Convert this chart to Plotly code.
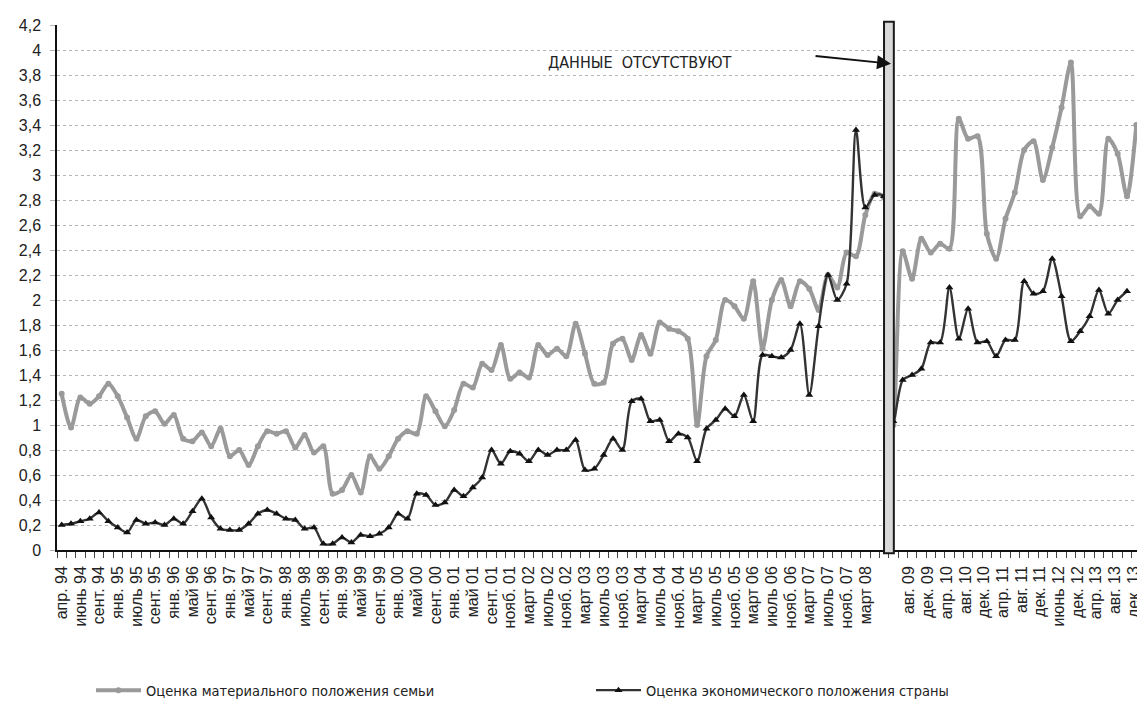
import plotly.graph_objects as go

# Survey waves (one point per wave), 1994-2013; a gap of missing data between 2008 and 2009
family = [1.25, 0.98, 1.22, 1.17, 1.23, 1.33, 1.23, 1.06, 0.89, 1.07,
          1.11, 1.01, 1.08, 0.89, 0.87, 0.94, 0.83, 0.97, 0.75, 0.80,
          0.68, 0.83, 0.95, 0.93, 0.95, 0.82, 0.92, 0.78, 0.83, 0.45,
          0.48, 0.60, 0.46, 0.75, 0.65, 0.75, 0.89, 0.95, 0.93, 1.23,
          1.11, 0.99, 1.12, 1.33, 1.30, 1.49, 1.44, 1.64, 1.37, 1.42,
          1.38, 1.64, 1.56, 1.61, 1.55, 1.81, 1.57, 1.33, 1.34, 1.65,
          1.69, 1.52, 1.72, 1.57, 1.82, 1.77, 1.75, 1.69, 1.00, 1.55,
          1.68, 2.00, 1.95, 1.85, 2.15, 1.61, 2.00, 2.16, 1.95, 2.15,
          2.09, 1.92, 2.20, 2.10, 2.38, 2.35, 2.68, 2.85, 2.82, 1.00,
          2.39, 2.17, 2.49, 2.38, 2.45, 2.41, 3.45, 3.29, 3.31, 2.53,
          2.33, 2.65, 2.86, 3.20, 3.27, 2.96, 3.22, 3.54, 3.90, 2.67,
          2.75, 2.69, 3.29, 3.17, 2.83, 3.40]

country = [0.20, 0.21, 0.23, 0.25, 0.30, 0.23, 0.18, 0.14, 0.24, 0.21,
           0.22, 0.20, 0.25, 0.21, 0.31, 0.41, 0.26, 0.17, 0.16, 0.16,
           0.21, 0.29, 0.32, 0.29, 0.25, 0.24, 0.17, 0.18, 0.05, 0.05,
           0.10, 0.06, 0.12, 0.11, 0.13, 0.18, 0.29, 0.25, 0.45, 0.44,
           0.36, 0.38, 0.48, 0.43, 0.50, 0.58, 0.80, 0.69, 0.79, 0.77,
           0.71, 0.80, 0.76, 0.80, 0.80, 0.88, 0.64, 0.65, 0.76, 0.89,
           0.80, 1.19, 1.21, 1.03, 1.04, 0.87, 0.93, 0.90, 0.71, 0.97,
           1.04, 1.13, 1.07, 1.24, 1.03, 1.56, 1.55, 1.54, 1.60, 1.81,
           1.24, 1.79, 2.20, 2.00, 2.13, 3.36, 2.74, 2.84, 2.83, 1.03,
           1.36, 1.40, 1.45, 1.66, 1.66, 2.10, 1.69, 1.93, 1.66, 1.67,
           1.55, 1.68, 1.68, 2.15, 2.05, 2.07, 2.33, 2.03, 1.67, 1.75,
           1.87, 2.08, 1.89, 2.00, 2.07, None]

labels_left = ["апр. 94", "июнь 94", "сент. 94", "янв. 95", "июль 95", "сент. 95",
               "янв. 96", "май 96", "сент. 96", "янв. 97", "май 97", "сент. 97",
               "янв. 98", "июль 98", "сент. 98", "янв. 99", "май 99", "сент. 99",
               "янв. 00", "май 00", "сент. 00", "янв. 01", "май 01", "сент. 01",
               "нояб. 01", "март 02", "июль 02", "нояб. 02", "март 03", "июль 03",
               "нояб. 03", "март 04", "июль 04", "нояб. 04", "март 05", "июль 05",
               "нояб. 05", "март 06", "июль 06", "нояб. 06", "март 07", "июль 07",
               "нояб. 07", "март 08"]
labels_right = ["авг. 09", "дек. 09", "апр. 10", "авг. 10", "дек. 10", "апр. 11",
                "авг. 11", "дек. 11", "июнь 12", "дек. 12", "апр. 13", "авг. 13",
                "дек. 13"]

name_family = "Оценка материального положения семьи"
name_country = "Оценка экономического положения страны"
note = "ДАННЫЕ  ОТСУТСТВУЮТ"

n = len(family)
idx = list(range(n))
gap = 88  # last wave before the missing period
# every second wave is labelled; right-hand labels nudged a little left as in the original
tickvals = list(range(0, 2 * len(labels_left), 2)) + \
    [v - 0.3 for v in range(n - 2 * len(labels_right) + 1, n, 2)]
ticktext = labels_left + labels_right

narrow = "Liberation Sans Narrow, DejaVu Sans Condensed, Arial Narrow, sans-serif"
regular = "Liberation Sans, Arial, sans-serif"

fig = go.Figure()

fig.add_trace(go.Scatter(
    x=idx, y=family, name=name_family,
    mode='lines+markers',
    line=dict(color='#9a9a9a', width=4, shape='spline', smoothing=0.8),
    marker=dict(symbol='circle', size=6, color='#9a9a9a')
))

fig.add_trace(go.Scatter(
    x=idx, y=country, name=name_country,
    mode='lines+markers',
    line=dict(color='#333333', width=2.4, shape='spline', smoothing=0.8),
    marker=dict(symbol='triangle-up', size=7, color='#111111')
))

# grey bar marking the missing data
fig.add_shape(type='rect', xref='x', yref='paper',
              x0=gap, x1=gap + 1.05, y0=-0.006, y1=1.006,
              fillcolor='#d9d9d9', line=dict(color='#1a1a1a', width=2),
              layer='above')

fig.add_annotation(x=61.8, y=3.9, xref='x', yref='y', text=note,
                   showarrow=False, font=dict(family=narrow, size=16, color='#222'))
fig.add_annotation(x=gap + 0.75, y=3.89, xref='x', yref='y', text='',
                   showarrow=True, ax=-77, ay=-8, arrowhead=2, arrowsize=1.4,
                   arrowwidth=2, arrowcolor='#111')

# the page adds an 8px body margin, so the figure is 8px smaller than the window
fig.update_layout(
    width=1137, height=694,
    margin=dict(l=49, r=4, t=17, b=152, autoexpand=False),
    plot_bgcolor='white', paper_bgcolor='white',
    separators=', ',
    font=dict(family=regular, size=15, color='#222'),
    showlegend=True,
    legend=dict(orientation='h', xref='container', yref='container',
                x=0.073, y=0.017, xanchor='left', yanchor='middle',
                font=dict(family=narrow, size=14.5, color='#222'),
                entrywidth=440, entrywidthmode='pixels', itemwidth=45),
    xaxis=dict(range=[-0.5, n - 0.5], tickmode='array', tickvals=tickvals,
               ticktext=ticktext, tickangle=-90, ticks='outside', ticklen=8,
               tickcolor='rgba(0,0,0,0)', showgrid=False, zeroline=False,
               showline=True, linecolor='#111', linewidth=1.5, automargin=False,
               tickfont=dict(family=regular, size=16, color='#222'),
               minor=dict(tickmode='linear', tick0=-0.5, dtick=1, ticks='outside',
                          ticklen=6, tickcolor='#444', showgrid=False)),
    yaxis=dict(range=[0, 4.2], dtick=0.2, tick0=0, showgrid=True,
               gridcolor='#b5b5b5', griddash='dot', gridwidth=1,
               zeroline=False, showline=True, linecolor='#111', linewidth=1.5,
               ticks='outside', ticklen=5, tickcolor='#b5b5b5', automargin=False,
               ticklabelstandoff=6,
               tickfont=dict(family=regular, size=16, color='#222'))
)

fig.write_html("out.html")
